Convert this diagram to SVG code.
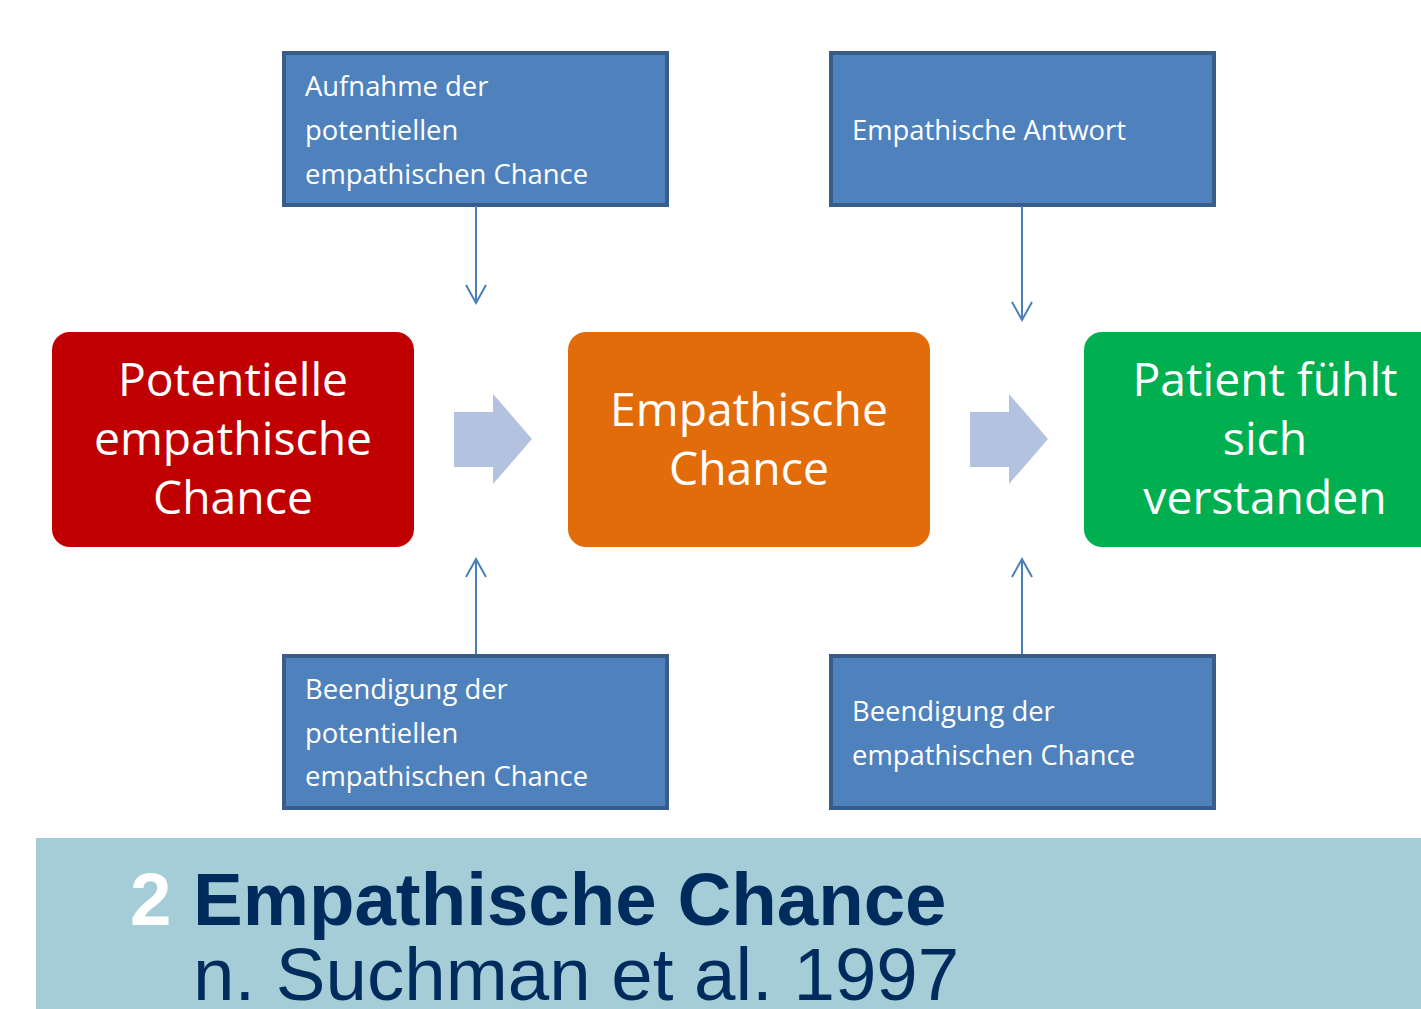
<svg xmlns="http://www.w3.org/2000/svg" width="1421" height="1009" viewBox="0 0 1421 1009">
<defs>
<style>
.box{fill:#4F81BD;stroke:#385D8A;stroke-width:4}
.bt{font-family:"Open Sans","Noto Sans",sans-serif;font-size:27.4px;fill:#fff}
.big{font-family:"Open Sans","Noto Sans",sans-serif;font-size:46.3px;fill:#fff;text-anchor:middle}
.con{stroke:#4A7EBB;stroke-width:2;fill:none}
.blk{fill:#B3C2DE}
.tt{font-family:"Liberation Sans",Arial,sans-serif;font-size:74.5px}
</style>
<marker id="ah" markerWidth="24" markerHeight="24" refX="20" refY="12" orient="auto" markerUnits="userSpaceOnUse">
<path d="M2,2 L20,12 L2,22" fill="none" stroke="#4A7EBB" stroke-width="2"/>
</marker>
</defs>
<rect width="1421" height="1009" fill="#fff"/>
<g id="node-aufnahme">
<rect class="box" x="284" y="53" width="383" height="152"/>
<text class="bt" x="305" y="96">Aufnahme der</text>
<text class="bt" x="305" y="140">potentiellen</text>
<text class="bt" x="305" y="184">empathischen Chance</text>
</g>
<g id="node-antwort">
<rect class="box" x="831" y="53" width="383" height="152"/>
<text class="bt" x="852" y="140">Empathische Antwort</text>
</g>
<g id="node-beendigung-pot">
<rect class="box" x="284" y="656" width="383" height="152"/>
<text class="bt" x="305" y="699">Beendigung der</text>
<text class="bt" x="305" y="743">potentiellen</text>
<text class="bt" x="305" y="786">empathischen Chance</text>
</g>
<g id="node-beendigung-emp">
<rect class="box" x="831" y="656" width="383" height="152"/>
<text class="bt" x="852" y="721">Beendigung der</text>
<text class="bt" x="852" y="765">empathischen Chance</text>
</g>
<g id="node-potentielle">
<rect x="52" y="332" width="362" height="215" rx="18" fill="#C00000"/>
<text class="big" x="233" y="396">Potentielle</text>
<text class="big" x="233" y="455">empathische</text>
<text class="big" x="233" y="514">Chance</text>
</g>
<g id="node-empathische">
<rect x="568" y="332" width="362" height="215" rx="18" fill="#E36C0A"/>
<text class="big" x="749" y="426">Empathische</text>
<text class="big" x="749" y="485">Chance</text>
</g>
<g id="node-patient">
<rect x="1084" y="332" width="362" height="215" rx="18" fill="#00B050"/>
<text class="big" x="1265" y="396">Patient fühlt</text>
<text class="big" x="1265" y="455">sich</text>
<text class="big" x="1265" y="514">verstanden</text>
</g>
<g id="connectors">
<polygon class="blk" points="454,412 493,412 493,394 532,439 493,484 493,467 454,467"/>
<polygon class="blk" points="970,412 1009,412 1009,394 1048,439 1009,484 1009,467 970,467"/>
<line class="con" x1="476" y1="206" x2="476" y2="303" marker-end="url(#ah)"/>
<line class="con" x1="1022" y1="206" x2="1022" y2="320" marker-end="url(#ah)"/>
<line class="con" x1="476" y1="654" x2="476" y2="559" marker-end="url(#ah)"/>
<line class="con" x1="1022" y1="654" x2="1022" y2="559" marker-end="url(#ah)"/>
</g>
<g id="title">
<rect x="36" y="838" width="1385" height="171" fill="#A5CDD8"/>
<text class="tt" x="130" y="925" font-weight="bold" fill="#fff">2</text>
<text class="tt" x="193" y="925" font-weight="bold" fill="#002C5D">Empathische Chance</text>
<text class="tt" x="193" y="1000" fill="#002C5D">n. Suchman et al. 1997</text>
</g>
</svg>
